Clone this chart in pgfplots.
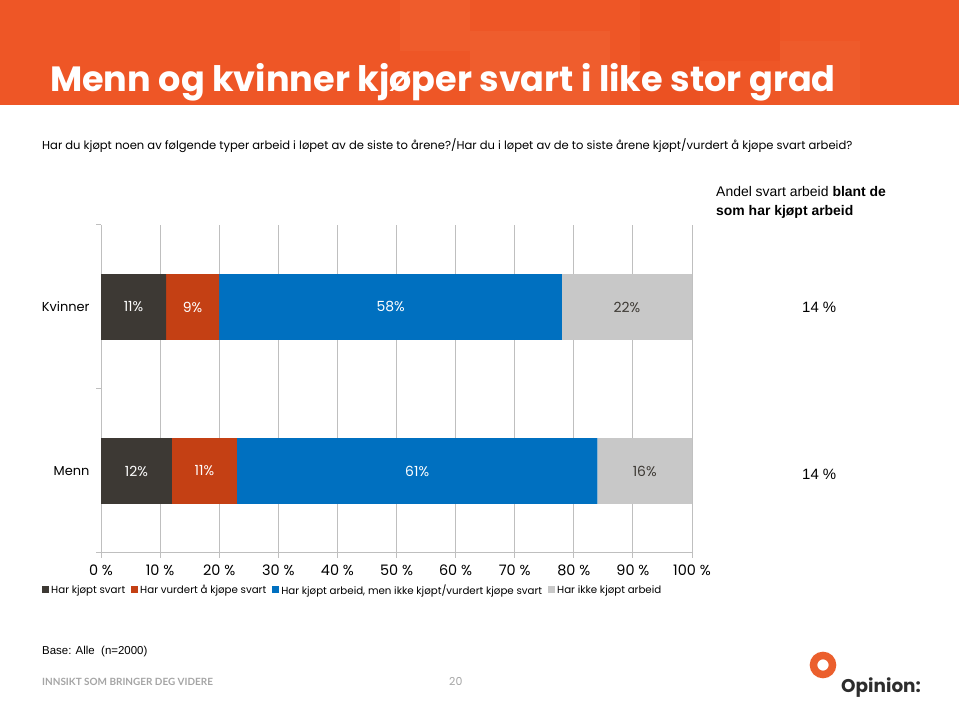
\documentclass[border=0pt]{standalone}
\usepackage{pgfplots}
\pgfplotsset{compat=1.18}
\usepackage{fontspec}
\setmainfont{Poppins}
\newfontfamily\arial{Liberation Sans}
\newfontfamily\lato{Lato}
\definecolor{hdr}{RGB}{238,86,38}
\definecolor{hdrlight}{RGB}{246,130,80}
\definecolor{hdrdark}{RGB}{228,70,25}
\definecolor{cblack}{RGB}{61,57,52}
\definecolor{cred}{RGB}{196,64,20}
\definecolor{cblue}{RGB}{0,112,192}
\definecolor{cgray}{RGB}{200,200,200}
\definecolor{cgrid}{RGB}{191,191,191}
\definecolor{foot}{RGB}{165,165,165}
\definecolor{logo}{RGB}{235,95,45}
\definecolor{logotext}{RGB}{45,45,45}
\begin{document}
\begin{tikzpicture}[x=1bp,y=1bp]
\path[use as bounding box] (0,0) rectangle (959,701);
\fill[white] (0,0) rectangle (959,701);
% header band
\fill[hdr] (0,596) rectangle (959,701);
\fill[hdrdark, opacity=0.25] (640,596) rectangle (700,701);
\fill[hdrlight, opacity=0.15] (400,650) rectangle (470,701);
\fill[hdrlight, opacity=0.18] (470,596) rectangle (610,670);
\fill[hdrdark, opacity=0.2] (700,640) rectangle (780,701);
\fill[hdrlight, opacity=0.12] (780,596) rectangle (860,660);
\node[anchor=base west, text=white, inner sep=0, font=\bfseries\fontsize{35.2}{40}\selectfont] at (50,609) {Menn og kvinner kjøper svart i like stor grad};
% question
\node[anchor=base west, inner sep=0, font=\fontsize{11.6}{13}\selectfont] at (42,551) {Har du kjøpt noen av følgende typer arbeid i løpet av de siste to årene?/Har du i løpet av de to siste årene kjøpt/vurdert å kjøpe svart arbeid?};

\begin{axis}[
  at={(101bp,148bp)}, anchor=south west,
  scale only axis, width=591bp, height=328bp,
  xbar stacked, bar width=0.4,
  xmin=0, xmax=100, ymin=-0.5, ymax=1.5,
  ytick={0,1}, yticklabels={Menn,Kvinner},
  xtick={0,10,...,100},
  xticklabel={\pgfmathprintnumber{\tick}~\%},
  axis x line*=bottom, axis y line*=left,
  axis line style={cgrid, line width=1bp},
  xmajorgrids, grid style={cgrid, line width=1bp},
  tick align=outside, major tick length=5bp,
  xtick style={cgrid, line width=1bp},
  ytick style={draw=none},
  extra y ticks={-0.5,0.5,1.5}, extra y tick labels={},
  extra y tick style={ytick style={draw=cgrid, line width=1bp}},
  tick label style={text=black},
  x tick label style={font=\fontsize{14.5}{16}\selectfont, yshift=-3bp},
  y tick label style={font=\fontsize{13}{15}\selectfont, xshift=-3bp},
  /pgf/number format/assume math mode=true,
  legend columns=4,
  legend cell align=left,
  legend style={at={(-0.0998,-0.1128)}, anchor=west, draw=none, fill=none,
    inner xsep=0pt, inner ysep=0pt,
    font=\fontsize{10.3}{12}\selectfont,
    /tikz/every even column/.append style={column sep=4bp}},
  legend image code/.code={\fill[#1,draw=none] (0bp,-3.5bp) rectangle (7bp,3.5bp);},
]
\addplot[fill=cblack, draw=none] coordinates {(12,0) (11,1)};
\addlegendentry{Har kjøpt svart}
\addplot[fill=cred, draw=none] coordinates {(11,0) (9,1)};
\addlegendentry{Har vurdert å kjøpe svart}
\addplot[fill=cblue, draw=none] coordinates {(61,0) (58,1)};
\addlegendentry{Har kjøpt arbeid, men ikke kjøpt/vurdert kjøpe svart}
\addplot[fill=cgray, draw=none] coordinates {(16,0) (22,1)};
\addlegendentry{Har ikke kjøpt arbeid}
\end{axis}

\begin{axis}[
  at={(101bp,148bp)}, anchor=south west,
  scale only axis, width=591bp, height=328bp,
  xmin=0, xmax=100, ymin=-0.5, ymax=1.5, hide axis,
  nodes near coords, point meta=explicit symbolic,
  every node near coord/.append style={anchor=center, inner sep=0pt, font=\fontsize{14}{16}\selectfont},
]
\addplot[draw=none, mark=none, nodes near coords style={text=white}]
  coordinates {(6,0) [12\%] (17.5,0) [11\%] (53.5,0) [61\%] (5.5,1) [11\%] (15.5,1) [9\%] (49,1) [58\%]};
\addplot[draw=none, mark=none, nodes near coords style={text=cblack}]
  coordinates {(92,0) [16\%] (89,1) [22\%]};
\end{axis}

% right-hand annotation
\node[anchor=base west, inner sep=0, font=\arial\fontsize{14}{16}\selectfont] at (716,504) {Andel svart arbeid \textbf{blant de}};
\node[anchor=base west, inner sep=0, font=\arial\bfseries\fontsize{14}{16}\selectfont] at (716,485) {som har kjøpt arbeid};
\node[anchor=base west, inner sep=0, font=\arial\fontsize{15}{17}\selectfont] at (802,388) {14 \%};
\node[anchor=base west, inner sep=0, font=\arial\fontsize{15}{17}\selectfont] at (802,221) {14 \%};

% footer
\node[anchor=base west, inner sep=0, font=\arial\fontsize{11.5}{13}\selectfont] at (42,46) {Base: Alle\ \ (n=2000)};
\node[anchor=base west, inner sep=0, text=foot, font=\lato\bfseries\fontsize{10}{12}\selectfont] at (42,15) {INNSIKT SOM BRINGER DEG VIDERE};
\node[anchor=base west, inner sep=0, text=foot, font=\fontsize{11}{13}\selectfont] at (449,15) {20};
\draw[logo, line width=7.5bp] (823,36) circle (9.5);
\node[anchor=base west, inner sep=0, text=logotext, font=\bfseries\fontsize{18.5}{22}\selectfont] at (841,8) {Opinion:};
\end{tikzpicture}
\end{document}
